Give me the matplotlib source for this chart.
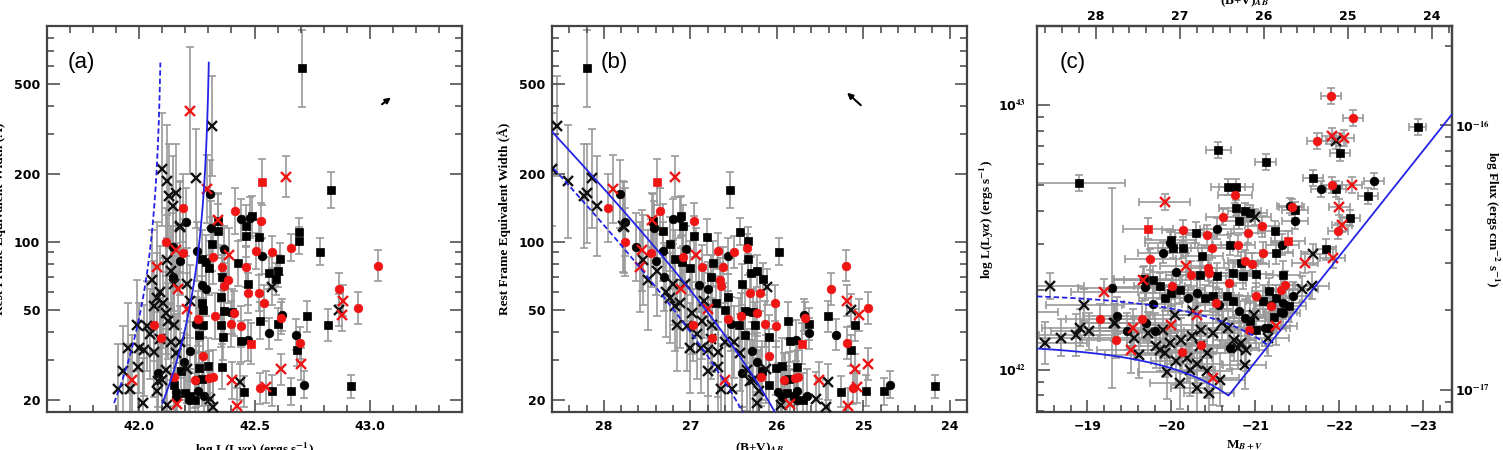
import numpy as np
import matplotlib
matplotlib.use("Agg")
import matplotlib.pyplot as plt
from matplotlib.ticker import (FixedLocator, MultipleLocator, NullFormatter,
                               FuncFormatter, FormatStrFormatter)

plt.rcParams['mathtext.fontset'] = 'stix'
plt.rcParams['font.family'] = 'DejaVu Sans'
plt.rcParams['font.weight'] = 'bold'

# ---- data: one entry per object --------------------------------------------
kind = ['ro','ro','ks','rx','rx','kx','ro','ks','ks','ks',
        'ks','ko','ro','ks','rx','ko','ks','ks','rx','ks',
        'rx','ro','ks','kx','rx','rx','rx','kx','ko','rx',
        'kx','kx','ro','ro','kx','kx','ks','ks','ro','ks',
        'ks','ks','kx','ro','ks','ko','ro','ks','ko','ko',
        'ro','ks','ro','ro','ro','ks','rs','ks','ko','ks',
        'ks','ko','ro','ks','ro','ro','ks','ko','rs','ks',
        'ro','ks','ro','ro','ks','ks','rx','ko','ro','ro',
        'ro','ks','ks','ks','ks','ro','ks','rx','ks','ko',
        'ks','ro','ks','ks','ko','ks','ko','ko','ks','ks',
        'ko','ro','ks','ks','ro','ks','ks','ko','ro','ro',
        'ks','ko','ko','ro','kx','kx','ko','ko','ks','ks',
        'ko','ko','kx','rx','kx','ro','ko','ro','kx','ko',
        'rx','kx','ko','kx','ko','rx','kx','kx','kx','kx',
        'kx','kx','rx','kx','kx','kx','kx','kx','ro','kx',
        'kx','kx','kx','rx','ro','kx','kx','rx','kx','ko',
        'kx','kx','kx','kx','kx','kx','kx','kx','kx','kx',
        'rx','kx','kx','kx','kx','kx','kx','ks','ks','ks',
        'ko']

log_lum = [43.035, 42.951, 42.918, 42.884, 42.878, 42.865, 42.865, 42.818, 42.831, 42.785,
           42.726, 42.682, 42.698, 42.684, 42.700, 42.713, 42.657, 42.707, 42.616, 42.574,
           42.549, 42.524, 42.455, 42.436, 42.404, 42.423, 42.635, 42.316, 42.309, 42.293,
           42.246, 42.120, 42.190, 42.114, 42.158, 42.145, 42.692, 42.692, 42.659, 42.612,
           42.600, 42.593, 42.577, 42.578, 42.562, 42.621, 42.616, 42.604, 42.564, 42.533,
           42.528, 42.518, 42.508, 42.543, 42.518, 42.524, 42.533, 42.489, 42.480, 42.461,
           42.461, 42.442, 42.461, 42.473, 42.470, 42.442, 42.440, 42.473, 42.486, 42.430,
           42.417, 42.404, 42.413, 42.400, 42.362, 42.360, 42.391, 42.369, 42.360, 42.385,
           42.366, 42.360, 42.354, 42.366, 42.354, 42.328, 42.343, 42.340, 42.341, 42.313,
           42.316, 42.318, 42.290, 42.303, 42.250, 42.271, 42.271, 42.290, 42.271, 42.278,
           42.246, 42.253, 42.278, 42.259, 42.278, 42.259, 42.297, 42.246, 42.322, 42.303,
           42.271, 42.253, 42.215, 42.240, 42.306, 42.318, 42.221, 42.196, 42.183, 42.152,
           42.158, 42.158, 42.120, 42.164, 42.208, 42.152, 42.205, 42.190, 42.177, 42.145,
           42.158, 42.120, 42.177, 42.139, 42.145, 42.170, 42.152, 42.101, 42.076, 42.088,
           42.208, 42.221, 42.208, 42.177, 42.152, 42.126, 42.114, 42.088, 42.095, 42.045,
           42.032, 42.064, 42.057, 42.076, 42.066, 41.994, 41.962, 41.968, 42.020, 42.082,
           42.082, 42.076, 42.016, 42.100, 42.114, 42.158, 42.139, 42.063, 42.000, 42.178,
           42.220, 42.100, 42.130, 41.930, 41.910, 41.950, 41.990, 42.220, 42.240, 42.200,
           42.280]

abs_mag = [-21.90, -22.16, -22.93, -21.91, -22.05, -21.96, -21.73, -22.01, -20.56, -21.12,
           -21.69, -21.78, -21.91, -21.96, -22.15, -22.41, -22.34, -18.90, -22.00, -22.13,
           -22.03, -21.98, -21.84, -21.69, -21.59, -21.92, -19.92, -18.56, -19.29, -19.20,
           -18.96, -18.68, -19.15, -19.34, -18.91, -19.02, -20.67, -20.77, -20.76, -20.77,
           -20.87, -20.94, -20.99, -20.61, -20.80, -21.41, -21.43, -21.47, -21.47, -20.54,
           -20.14, -20.29, -20.42, -21.08, -20.91, -21.23, -19.72, -19.99, -19.98, -20.02,
           -20.14, -19.90, -20.48, -20.70, -20.79, -21.09, -21.25, -21.32, -21.39, -20.36,
           -19.75, -20.83, -20.87, -20.96, -21.01, -21.33, -20.17, -20.05, -20.23, -20.44,
           -20.45, -20.34, -20.54, -20.73, -20.85, -20.69, -19.67, -19.66, -19.78, -19.68,
           -19.86, -20.01, -20.00, -20.10, -19.78, -19.92, -20.20, -20.30, -20.40, -20.50,
           -20.57, -20.53, -20.66, -20.73, -21.01, -21.09, -21.16, -21.19, -21.35, -21.31,
           -21.24, -21.33, -21.33, -21.18, -21.55, -21.67, -20.81, -20.87, -20.93, -21.01,
           -21.11, -21.16, -21.15, -21.25, -20.98, -20.92, -19.35, -19.65, -19.33, -19.47,
           -19.54, -19.55, -19.70, -19.72, -19.80, -19.99, -19.90, -19.98, -19.86, -19.82,
           -20.04, -20.26, -20.31, -20.60, -20.35, -20.24, -20.12, -20.34, -20.35, -20.18,
           -20.06, -19.92, -19.61, -19.52, -20.13, -20.42, -20.58, -20.50, -20.30, -20.70,
           -20.79, -20.89, -20.87, -20.83, -20.75, -20.67, -20.50, -20.42, -20.22, -19.32,
           -18.15, -18.50, -18.87, -20.30, -20.45, -20.10, -19.95, -21.30, -21.40, -21.22,
           -21.45]

app_mag = [25.20, 24.94, 24.17, 25.19, 25.05, 25.14, 25.37, 25.09, 26.54, 25.98,
           25.41, 25.32, 25.19, 25.14, 24.95, 24.69, 24.76, 28.20, 25.10, 24.97,
           25.07, 25.12, 25.26, 25.41, 25.51, 25.18, 27.18, 28.54, 27.81, 27.90,
           28.14, 28.42, 27.95, 27.76, 28.19, 28.08, 26.43, 26.33, 26.34, 26.33,
           26.23, 26.16, 26.11, 26.49, 26.30, 25.69, 25.67, 25.63, 25.63, 26.56,
           26.96, 26.81, 26.68, 26.02, 26.19, 25.87, 27.38, 27.11, 27.12, 27.08,
           26.96, 27.20, 26.62, 26.40, 26.31, 26.01, 25.85, 25.78, 25.71, 26.74,
           27.35, 26.27, 26.23, 26.14, 26.09, 25.77, 26.93, 27.05, 26.87, 26.66,
           26.65, 26.76, 26.56, 26.37, 26.25, 26.41, 27.43, 27.44, 27.32, 27.42,
           27.24, 27.09, 27.10, 27.00, 27.32, 27.18, 26.90, 26.80, 26.70, 26.60,
           26.53, 26.57, 26.44, 26.37, 26.09, 26.01, 25.94, 25.91, 25.75, 25.79,
           25.86, 25.77, 25.77, 25.92, 25.55, 25.43, 26.29, 26.23, 26.17, 26.09,
           25.99, 25.94, 25.95, 25.85, 26.12, 26.18, 27.75, 27.45, 27.77, 27.63,
           27.56, 27.55, 27.40, 27.38, 27.30, 27.11, 27.20, 27.12, 27.24, 27.28,
           27.06, 26.84, 26.79, 26.50, 26.75, 26.86, 26.98, 26.76, 26.75, 26.92,
           27.04, 27.18, 27.49, 27.58, 26.97, 26.68, 26.52, 26.60, 26.80, 26.40,
           26.31, 26.21, 26.23, 26.27, 26.35, 26.43, 26.60, 26.68, 26.88, 27.78,
           28.95, 28.60, 28.23, 26.80, 26.65, 27.00, 27.15, 25.80, 25.70, 25.88,
           25.65]

ew = [78.5, 51, 23, 55, 47.6, 50, 62, 43, 169, 90.6,
      46.8, 38.9, 35.8, 33.1, 28.8, 23.4, 21.9, 585, 27.3, 22,
      22.8, 22.5, 21.8, 24, 24.4, 18.8, 194, 325, 163, 171,
      191, 185, 141, 99.5, 164, 144, 111, 101, 94.4, 84,
      74.5, 68.7, 63.2, 90, 72.8, 47.5, 46.1, 43.3, 39.4, 86.5,
      124, 105, 91.2, 53.8, 59.4, 44.9, 184, 130, 128, 118,
      106, 126, 77.4, 65, 59.4, 42.3, 36.3, 36.7, 35.5, 80.5,
      137, 49.2, 48.4, 43.3, 37.8, 28.1, 87.7, 93.1, 77.3, 67.5,
      64, 69.8, 57.3, 49.4, 43, 47, 124, 125, 112, 115,
      98, 86, 81.3, 76.4, 90.8, 83.8, 64.7, 61.7, 53.8, 49.9,
      43.5, 45.8, 43, 38.6, 31.2, 27.7, 28.4, 24.5, 25.2, 25.1,
      24.8, 21.9, 20.1, 24.4, 20.2, 18.6, 32.9, 29.4, 27, 23.3,
      21.6, 20.6, 19.1, 19.2, 27.3, 25.4, 122, 89, 116, 94.8,
      91.6, 83.2, 82.6, 74.3, 70, 62.2, 64.9, 53.6, 56.5, 60.3,
      64.9, 54.6, 50.6, 36.1, 42.9, 44.7, 48.5, 37.3, 37.6, 39.2,
      42.5, 52, 68, 77.3, 43, 27.9, 22.4, 24.4, 33.1, 26.4,
      24.3, 21.9, 19.4, 24.4, 27.2, 32.4, 36.2, 32.7, 34, 117,
      380, 209, 159, 26.9, 22.4, 33.9, 42.7, 20.9, 20, 21.5,
      20.9]

# errors: EW and L in dex, magnitude in mag
ew_err = [.07, .07, .05, .07, .07, .07, .07, .07, .08, .06,
          .07, .07, .07, .07, .07, .06, .06, .17, .07, .07,
          .07, .07, .07, .08, .08, .08, .09, .22, .15, .15,
          .22, .25, .15, .15, .22, .22, .06, .06, .06, .07,
          .07, .07, .08, .07, .07, .07, .07, .07, .07, .08,
          .08, .08, .08, .08, .08, .08, .10, .09, .09, .09,
          .09, .09, .09, .09, .09, .09, .09, .09, .09, .10,
          .10, .10, .10, .10, .10, .10, .12, .10, .10, .10,
          .10, .10, .10, .10, .10, .10, .12, .12, .12, .12,
          .12, .12, .12, .12, .13, .13, .12, .12, .12, .12,
          .12, .12, .12, .12, .12, .12, .12, .12, .12, .12,
          .12, .12, .12, .12, .12, .12, .13, .13, .13, .13,
          .13, .13, .15, .15, .15, .13, .15, .15, .20, .15,
          .18, .20, .15, .20, .15, .18, .18, .20, .20, .20,
          .16, .16, .16, .16, .17, .17, .18, .18, .15, .20,
          .20, .20, .22, .20, .16, .20, .20, .20, .20, .15,
          .18, .18, .20, .18, .18, .17, .17, .20, .20, .20,
          .28, .25, .23, .20, .20, .20, .20, .12, .12, .12,
          .12]

lum_err = [.03, .03, .03, .03, .03, .03, .03, .03, .03, .03,
           .03, .03, .03, .03, .03, .03, .03, .03, .03, .03,
           .03, .03, .04, .04, .04, .04, .03, .05, .38, .05,
           .06, .07, .06, .07, .07, .07, .03, .03, .03, .03,
           .03, .03, .03, .03, .03, .03, .03, .03, .03, .04,
           .04, .04, .04, .04, .04, .04, .04, .04, .04, .04,
           .04, .04, .04, .04, .04, .04, .04, .04, .04, .04,
           .04, .04, .04, .04, .05, .05, .05, .05, .05, .05,
           .05, .05, .05, .05, .05, .05, .05, .05, .05, .05,
           .05, .05, .05, .05, .06, .05, .05, .05, .05, .05,
           .06, .06, .05, .06, .05, .06, .05, .06, .05, .05,
           .05, .06, .06, .06, .05, .05, .06, .07, .07, .07,
           .07, .07, .07, .07, .07, .07, .07, .07, .07, .07,
           .07, .08, .07, .08, .07, .07, .08, .08, .08, .08,
           .07, .07, .07, .07, .07, .08, .08, .08, .08, .09,
           .09, .09, .09, .09, .08, .10, .10, .10, .09, .08,
           .08, .08, .09, .08, .08, .07, .08, .09, .10, .07,
           .07, .08, .08, .10, .10, .10, .10, .06, .06, .06,
           .05]

mag_err = [.12, .12, .10, .12, .12, .12, .12, .12, .15, .12,
           .12, .12, .12, .12, .12, .12, .12, .55, .12, .12,
           .12, .12, .12, .15, .15, .15, .30, .40, .40, .40,
           .45, .45, .40, .40, .45, .45, .20, .20, .20, .20,
           .20, .20, .20, .20, .20, .15, .15, .15, .15, .20,
           .25, .25, .25, .20, .20, .20, .30, .30, .30, .30,
           .30, .30, .25, .20, .20, .20, .20, .20, .20, .25,
           .30, .20, .20, .20, .20, .20, .30, .30, .30, .25,
           .25, .25, .25, .20, .20, .20, .35, .35, .35, .35,
           .30, .30, .30, .30, .35, .30, .30, .30, .25, .25,
           .25, .25, .25, .20, .20, .20, .20, .20, .20, .20,
           .20, .20, .20, .20, .20, .20, .25, .25, .25, .25,
           .25, .25, .25, .25, .25, .25, .40, .35, .40, .40,
           .40, .40, .35, .35, .35, .35, .35, .35, .35, .35,
           .30, .30, .30, .30, .30, .30, .30, .30, .30, .30,
           .30, .35, .40, .40, .30, .30, .30, .30, .30, .25,
           .25, .25, .25, .25, .25, .25, .30, .30, .30, .40,
           .50, .50, .45, .30, .30, .35, .35, .20, .20, .20,
           .20]

# detection-limit model curves
ew_w0 = 12.0
lim_a = {'--': 42.10, '-': 42.31}      # log L at large EW, panel (a)
lim_b = {'--': 22.71, '-': 22.34}      # magnitude zero point, panel (b)
lim_c = {'--': 42.29, '-': 42.10}      # log L at faint end, panel (c)
cont_c = 33.392                         # log(W0 * continuum) at M = 0
ew_line_c = 33.63                       # EW-cut line: log L = this - 0.4 M
dist_mod = 47.1
flux_off = 58.925

kind = np.array(kind)
log_lum = np.array(log_lum)
abs_mag = np.array(abs_mag)
app_mag = np.array(app_mag)
ew = np.array(ew)
ew_err = np.array(ew_err)
lum_err = np.array(lum_err)
mag_err = np.array(mag_err)

lum = 10**log_lum
ew_lo = ew - ew * 10**(-ew_err)
ew_hi = ew * 10**ew_err - ew
lum_lo = lum - lum * 10**(-lum_err)
lum_hi = lum * 10**lum_err - lum

red = '#f01515'
styles = {
    'ko': dict(marker='o', ms=6.2, mfc='k', mec='k', mew=0.5),
    'ks': dict(marker='s', ms=5.6, mfc='k', mec='k', mew=0.5),
    'kx': dict(marker='x', ms=6.5, mfc='none', mec='#111111', mew=1.7),
    'ro': dict(marker='o', ms=6.2, mfc=red, mec=red, mew=0.5),
    'rs': dict(marker='s', ms=5.6, mfc=red, mec=red, mew=0.5),
    'rx': dict(marker='x', ms=6.5, mfc='none', mec=red, mew=1.7),
}
ecol = '#9a9a9a'
blue = '#2323e6'
spine_col = '#444444'
label_font = dict(family='Liberation Serif', weight='bold', size=9.5)
panel_font = dict(family='Liberation Sans', weight='normal', size=16)


def points(ax, x, y, xerr=None, yerr=None):
    ax.errorbar(x, y, xerr=xerr, yerr=yerr, fmt='none', ecolor=ecol,
                elinewidth=1.2, capsize=3.2, capthick=1.2, zorder=1)
    for k, st in styles.items():
        m = kind == k
        ax.plot(x[m], y[m], ls='none', zorder=3, **st)


def frame(ax):
    for s in ax.spines.values():
        s.set_linewidth(1.6)
        s.set_color(spine_col)
    ax.tick_params(which='both', direction='in', color=spine_col, width=1.1, labelsize=9)
    ax.tick_params(which='major', length=9)
    ax.tick_params(which='minor', length=5)


def ew_axis(ax):
    ax.set_yscale('log')
    ax.set_ylim(17.7, 900)
    ax.yaxis.set_major_locator(FixedLocator([20, 50, 100, 200, 500]))
    ax.yaxis.set_major_formatter(FuncFormatter(lambda v, p: f'{v:g}'))
    ax.yaxis.set_minor_locator(FixedLocator([30, 40, 60, 70, 80, 90, 300, 400, 600, 700, 800, 900]))
    ax.yaxis.set_minor_formatter(NullFormatter())
    ax.tick_params(top=True, right=True, which='both')
    ax.tick_params(axis='x', pad=6)
    ax.tick_params(axis='y', pad=5)
    ax.set_ylabel('Rest Frame Equivalent Width (Å)', **label_font)
    ax.yaxis.set_label_coords(-0.098, 0.5)


def pow10(v, p):
    return r'10$^{%s}$' % str(int(round(np.log10(v)))).replace('-', '\u2212')


fig = plt.figure(figsize=(15.03, 4.5), dpi=100)
W, H = 1503, 450
ax_a = fig.add_axes([47 / W, 1 - 412 / H, 415 / W, 386 / H])
ax_b = fig.add_axes([552 / W, 1 - 412 / H, 415 / W, 386 / H])
ax_c = fig.add_axes([1037 / W, 1 - 412 / H, 415 / W, 386 / H])

# ---- panel (a) ----
points(ax_a, log_lum, ew, yerr=[ew_lo, ew_hi])
ew_grid = np.logspace(np.log10(19.4), np.log10(620), 300)
for ls, linf in lim_a.items():
    ax_a.plot(linf + np.log10(ew_grid / (ew_grid + ew_w0)), ew_grid, ls=ls,
              color=blue, lw=1.3, zorder=4, dashes=(3, 1.6) if ls == '--' else (None, None))
ew_axis(ax_a)
ax_a.set_xlim(41.6, 43.4)
ax_a.xaxis.set_major_locator(MultipleLocator(0.5))
ax_a.xaxis.set_minor_locator(MultipleLocator(0.1))
ax_a.xaxis.set_major_formatter(FormatStrFormatter('%.1f'))
ax_a.set_xlabel(r'log L(Ly$\alpha$) (ergs s$^{-1}$)', **label_font)
ax_a.xaxis.set_label_coords(0.5, -0.075)
ax_a.text(0.05, 0.905, '(a)', transform=ax_a.transAxes, va='center', **panel_font)
ax_a.annotate('', xy=(0.834, 0.819), xytext=(0.802, 0.793), xycoords='axes fraction',
              arrowprops=dict(arrowstyle='-|>', color='k', lw=1.5, mutation_scale=8))
frame(ax_a)

# ---- panel (b) ----
points(ax_b, app_mag, ew, yerr=[ew_lo, ew_hi])
ew_grid_b = np.logspace(1.2, 2.7, 300)
for ls, zp in lim_b.items():
    ax_b.plot(zp + 2.5 * np.log10(ew_grid_b + ew_w0), ew_grid_b, ls=ls,
              color=blue, lw=1.3, zorder=4, dashes=(3, 1.6) if ls == '--' else (None, None))
ew_axis(ax_b)
ax_b.set_xlim(28.6, 23.8)
ax_b.xaxis.set_major_locator(MultipleLocator(1))
ax_b.xaxis.set_minor_locator(MultipleLocator(0.2))
ax_b.xaxis.set_major_formatter(FormatStrFormatter('%d'))
ax_b.set_xlabel(r'(B+V)$_{AB}$', **label_font)
ax_b.xaxis.set_label_coords(0.5, -0.075)
ax_b.text(0.116, 0.905, '(b)', transform=ax_b.transAxes, va='center', **panel_font)
ax_b.annotate('', xy=(0.706, 0.832), xytext=(0.749, 0.790), xycoords='axes fraction',
              arrowprops=dict(arrowstyle='-|>', color='k', lw=1.5, mutation_scale=8))
frame(ax_b)

# ---- panel (c) ----
points(ax_c, abs_mag, lum, xerr=mag_err, yerr=[lum_lo, lum_hi])
m_grid = np.linspace(-18.4, -23.34, 500)
cont = 10**(cont_c - 0.4 * m_grid)
line = 10**(ew_line_c - 0.4 * m_grid)
solid = 10**lim_c['-'] - cont
solid[solid <= 0] = np.nan
solid = np.fmax(solid, line)
ax_c.plot(m_grid, solid, '-', color=blue, lw=1.3, zorder=4)
dashed = 10**lim_c['--'] - cont
keep = dashed > line
ax_c.plot(m_grid[keep], dashed[keep], '--', color=blue, lw=1.3, zorder=4, dashes=(3, 1.6))
ax_c.set_yscale('log')
ax_c.set_ylim(10**41.84, 10**43.30)
ax_c.set_xlim(-18.4, -23.34)
ax_c.xaxis.set_major_locator(MultipleLocator(1))
ax_c.xaxis.set_minor_locator(MultipleLocator(0.2))
ax_c.xaxis.set_major_formatter(FuncFormatter(lambda v, p: f'\u2212{abs(v):.0f}'))
ax_c.yaxis.set_major_formatter(FuncFormatter(pow10))
ax_c.yaxis.set_minor_formatter(NullFormatter())
frame(ax_c)
ax_c.tick_params(axis='x', pad=6)
ax_c.tick_params(axis='y', pad=8)
ax_c.set_xlabel(r'M$_{B+V}$', **label_font)
ax_c.xaxis.set_label_coords(0.5, -0.07)
ax_c.set_ylabel(r'log L(Ly$\alpha$) (ergs s$^{-1}$)', **label_font)
ax_c.yaxis.set_label_coords(-0.098, 0.5)
ax_c.text(0.055, 0.905, '(c)', transform=ax_c.transAxes, va='center', **panel_font)

top = ax_c.secondary_xaxis('top', functions=(lambda M: M + dist_mod, lambda m: m - dist_mod))
top.xaxis.set_major_locator(MultipleLocator(1))
top.xaxis.set_minor_locator(MultipleLocator(0.2))
top.xaxis.set_major_formatter(FormatStrFormatter('%d'))
top.tick_params(which='both', direction='in', color=spine_col, width=1.1, pad=2, labelsize=9)
top.tick_params(which='major', length=9)
top.tick_params(which='minor', length=5)

right = ax_c.secondary_yaxis('right', functions=(lambda L: L / 10**flux_off,
                                                 lambda F: F * 10**flux_off))
right.yaxis.set_major_formatter(FuncFormatter(pow10))
right.yaxis.set_minor_formatter(NullFormatter())
right.tick_params(which='both', direction='in', color=spine_col, width=1.1, pad=2, labelsize=9)
right.tick_params(which='major', length=9)
right.tick_params(which='minor', length=5)
for sec in (top, right):
    for s in sec.spines.values():
        s.set_linewidth(1.6)
        s.set_color(spine_col)

fig.text(1244.5 / W, 1 - 1 / H, r'(B+V)$_{AB}$', ha='center', va='center', **label_font)
fig.text(1492 / W, 1 - 219 / H, r'log Flux (ergs cm$^{-2}$ s$^{-1}$)', rotation=270,
         ha='center', va='center', **label_font)

fig.savefig('out.png', dpi=100)
